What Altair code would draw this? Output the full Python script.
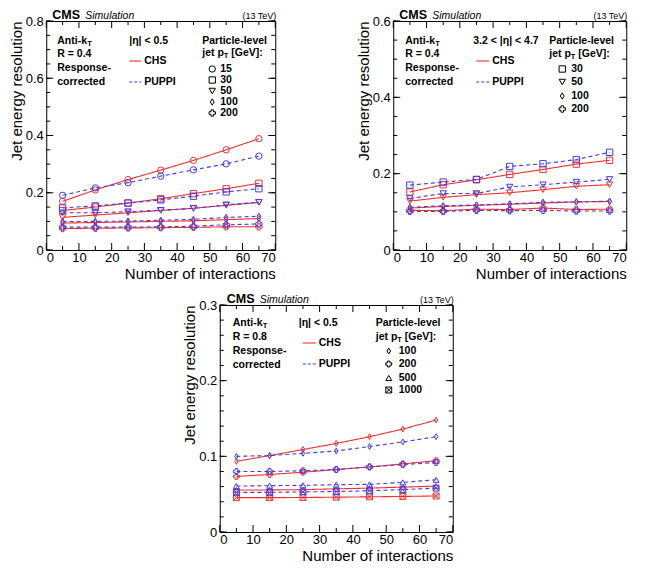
import altair as alt
import pandas as pd

FONT = "Liberation Sans"
RED = "#f03030"
BLUE = "#3c3cf0"

NPU = [5, 15, 25, 35, 45, 55, 65]

# Panel A: anti-kT R=0.4, |eta|<0.5
A_PT = [15, 30, 50, 100, 200]
A_CHS = {
    15: [0.170, 0.210, 0.246, 0.279, 0.313, 0.350, 0.389],
    30: [0.138, 0.150, 0.164, 0.179, 0.197, 0.214, 0.233],
    50: [0.114, 0.122, 0.130, 0.138, 0.146, 0.156, 0.166],
    100: [0.094, 0.096, 0.098, 0.100, 0.102, 0.106, 0.110],
    200: [0.075, 0.076, 0.077, 0.078, 0.079, 0.081, 0.081],
}
A_PUPPI = {
    15: [0.191, 0.217, 0.235, 0.258, 0.280, 0.301, 0.328],
    30: [0.147, 0.154, 0.164, 0.175, 0.188, 0.203, 0.214],
    50: [0.130, 0.130, 0.134, 0.139, 0.145, 0.158, 0.167],
    100: [0.099, 0.100, 0.101, 0.104, 0.107, 0.114, 0.118],
    200: [0.080, 0.080, 0.080, 0.081, 0.083, 0.088, 0.091],
}

# Panel B: anti-kT R=0.4, 3.2<|eta|<4.7
B_PT = [30, 50, 100, 200]
B_CHS = {
    30: [0.152, 0.171, 0.184, 0.198, 0.211, 0.225, 0.235],
    50: [0.128, 0.138, 0.145, 0.150, 0.158, 0.167, 0.171],
    100: [0.110, 0.114, 0.117, 0.120, 0.123, 0.126, 0.127],
    200: [0.104, 0.103, 0.107, 0.106, 0.110, 0.106, 0.107],
}
B_PUPPI = {
    30: [0.170, 0.178, 0.185, 0.219, 0.226, 0.237, 0.256],
    50: [0.135, 0.148, 0.148, 0.165, 0.171, 0.178, 0.185],
    100: [0.112, 0.116, 0.118, 0.121, 0.125, 0.126, 0.128],
    200: [0.101, 0.101, 0.104, 0.103, 0.104, 0.102, 0.102],
}

# Panel C: anti-kT R=0.8, |eta|<0.5
C_PT = [100, 200, 500, 1000]
C_CHS = {
    100: [0.0934, 0.101, 0.109, 0.117, 0.126, 0.136, 0.148],
    200: [0.0734, 0.076, 0.079, 0.0825, 0.086, 0.090, 0.0943],
    500: [0.0555, 0.0556, 0.0560, 0.0570, 0.0580, 0.0593, 0.0607],
    1000: [0.0454, 0.0454, 0.0456, 0.0460, 0.0465, 0.0470, 0.0476],
}
C_PUPPI = {
    100: [0.100, 0.101, 0.104, 0.107, 0.113, 0.119, 0.126],
    200: [0.080, 0.080, 0.081, 0.0826, 0.086, 0.089, 0.092],
    500: [0.0607, 0.0612, 0.0617, 0.0625, 0.063, 0.0656, 0.069],
    1000: [0.0524, 0.0524, 0.0530, 0.0535, 0.0545, 0.0560, 0.058],
}

X_MAJOR = [0, 10, 20, 30, 40, 50, 60, 70]
X_MINOR = [5, 15, 25, 35, 45, 55, 65]

DIAMOND = "M0,-1L0.6,0L0,1L-0.6,0Z"
SQX = "M-1,-1L1,-1L1,1L-1,1Z M-1,-1L1,1 M-1,1L1,-1"
SHAPES = {15: "circle", 30: "square", 50: "triangle-down", 100: DIAMOND,
          200: "cross", 500: "triangle-up", 1000: SQX}

ONE = pd.DataFrame({"k": [0]})


def T(s, x, y, size=10.5, weight="bold", align="left", style="normal", baseline="middle"):
    return alt.Chart(ONE).mark_text(
        text=s, font=FONT, fontSize=size, fontWeight=weight, fontStyle=style,
        align=align, baseline=baseline, color="black"
    ).encode(x=alt.value(x), y=alt.value(y))


def panel(chs, puppi, pts, W, H, ymax, y_major, y_minor, R_txt, eta_txt, L, msize):
    rows = []
    for algo, d in (("CHS", chs), ("PUPPI", puppi)):
        for pt in pts:
            for x, v in zip(NPU, d[pt]):
                rows.append(dict(npu=x, res=v, algo=algo, pt=str(pt), shp=SHAPES[pt]))
    df = pd.DataFrame(rows)

    X = alt.X("npu:Q", scale=alt.Scale(domain=[0, 70], nice=False, zero=False),
              axis=alt.Axis(values=X_MAJOR, format="d", title="Number of interactions",
                            titleAnchor="end", labelPadding=1, titlePadding=2))
    Y = alt.Y("res:Q", scale=alt.Scale(domain=[0, ymax], nice=False),
              axis=alt.Axis(values=y_major, format="~g", title="Jet energy resolution",
                            titleAnchor="end", labelPadding=3, titlePadding=1))
    color = alt.Color("algo:N", scale=alt.Scale(domain=["CHS", "PUPPI"], range=[RED, BLUE]), legend=None)
    dash = alt.StrokeDash("algo:N", scale=alt.Scale(domain=["CHS", "PUPPI"], range=[[1, 0], [4, 3]]), legend=None)

    layers = []
    # inward ticks on all four sides
    for vals, ln in ((X_MAJOR, 7), (X_MINOR, 4)):
        tdf = pd.DataFrame({"npu": vals})
        layers.append(alt.Chart(tdf).mark_rule(color="black", strokeWidth=1).encode(
            x=X, y=alt.value(H), y2=alt.value(H - ln)))
        layers.append(alt.Chart(tdf).mark_rule(color="black", strokeWidth=1).encode(
            x=X, y=alt.value(0), y2=alt.value(ln)))
    for vals, ln in ((y_major, 7), (y_minor, 4)):
        tdf = pd.DataFrame({"res": vals})
        layers.append(alt.Chart(tdf).mark_rule(color="black", strokeWidth=1).encode(
            y=Y, x=alt.value(0), x2=alt.value(ln)))
        layers.append(alt.Chart(tdf).mark_rule(color="black", strokeWidth=1).encode(
            y=Y, x=alt.value(W), x2=alt.value(W - ln)))

    layers.append(alt.Chart(df).mark_line(strokeWidth=1.1).encode(
        x=X, y=Y, color=color, strokeDash=dash, detail="pt:N"))
    layers.append(alt.Chart(df).mark_point(filled=False, size=msize, strokeWidth=1, opacity=1).encode(
        x=X, y=Y, color=color, shape=alt.Shape("shp:N", scale=None)))

    # header
    layers.append(T("CMS", L["cms"], -2, size=12.5, baseline="alphabetic"))
    layers.append(T("Simulation", L["cms"] + 33, -2, size=10.5, weight="normal", style="italic", baseline="alphabetic"))
    layers.append(T("(13 TeV)", W + 1, -2, size=9, weight="normal", align="right", baseline="alphabetic"))

    # left text block
    ax, r = L["ax"], L["r"]
    layers.append(T("Anti-k", ax, r[0]))
    layers.append(T("T", ax + 30, r[0] + 3, size=7.5))
    layers.append(T(R_txt, ax, r[1]))
    layers.append(T("Response-", ax, r[2]))
    layers.append(T("corrected", ax, r[3]))

    # algorithm legend
    layers.append(T(eta_txt, L["ex"], r[0]))
    lx1, lx2 = L["lx"]
    layers.append(alt.Chart(ONE).mark_rule(color=RED, strokeWidth=1.1).encode(
        x=alt.value(lx1), x2=alt.value(lx2), y=alt.value(L["ly"][0])))
    layers.append(alt.Chart(ONE).mark_rule(color=BLUE, strokeWidth=1.1, strokeDash=[3, 2]).encode(
        x=alt.value(lx1), x2=alt.value(lx2), y=alt.value(L["ly"][1])))
    layers.append(T("CHS", lx2 + 3, L["ly"][0]))
    layers.append(T("PUPPI", lx2 + 3, L["ly"][1]))

    # pT legend
    px = L["px"]
    layers.append(T("Particle-level", px, r[0]))
    layers.append(T("jet p", px, L["pty"]))
    layers.append(T("T", px + 21.5, L["pty"] + 3, size=7.5))
    layers.append(T("[GeV]:", px + 29, L["pty"]))
    for pt, ry in zip(pts, L["rows"]):
        layers.append(alt.Chart(ONE).mark_point(
            shape=SHAPES[pt], filled=False, color="black", size=msize, strokeWidth=1, opacity=1
        ).encode(x=alt.value(L["mk"]), y=alt.value(ry)))
        layers.append(T(str(pt), L["val"], ry))

    return alt.layer(*layers).properties(width=W, height=H)


A = panel(A_CHS, A_PUPPI, A_PT, 229, 229, 0.8, [0, 0.2, 0.4, 0.6, 0.8],
          [round(0.05 * i, 2) for i in range(17)], "R = 0.4", "|η| < 0.5",
          dict(cms=6, ax=11, r=[20, 33, 47, 61], ex=83, lx=(83, 95), ly=(40, 61),
               px=156, pty=32, rows=[48, 59, 70, 81, 92], mk=166, val=174), 40)
B = panel(B_CHS, B_PUPPI, B_PT, 233, 229, 0.6, [0, 0.2, 0.4, 0.6],
          [round(0.05 * i, 2) for i in range(13)], "R = 0.4", "3.2 < |η| < 4.7",
          dict(cms=6, ax=12, r=[20, 33, 47, 61], ex=80, lx=(83, 96), ly=(40, 61),
               px=156, pty=33, rows=[48, 61, 75, 88], mk=169, val=178), 40)
C = panel(C_CHS, C_PUPPI, C_PT, 233, 227, 0.3, [0, 0.1, 0.2, 0.3],
          [round(0.02 * i, 2) for i in range(16)], "R = 0.8", "|η| < 0.5",
          dict(cms=7, ax=13, r=[18, 32, 46, 60], ex=79, lx=(83, 96), ly=(38, 59),
               px=156, pty=32, rows=[46, 59, 73, 85], mk=169, val=179), 35)

top = alt.hconcat(A, B, spacing=78)
chart = alt.vconcat(top, C, spacing=10, center=True).resolve_scale(
    x="independent", y="independent"
).properties(padding=0).configure_view(
    stroke="black", strokeWidth=1
).configure_axis(
    ticks=False, domain=False, grid=False,
    labelFont=FONT, labelFontSize=13, labelColor="black",
    titleFont=FONT, titleFontSize=15, titleFontWeight="normal", titleColor="black",
)

chart.save("out.html", embed_options={"renderer": "svg", "actions": False})
